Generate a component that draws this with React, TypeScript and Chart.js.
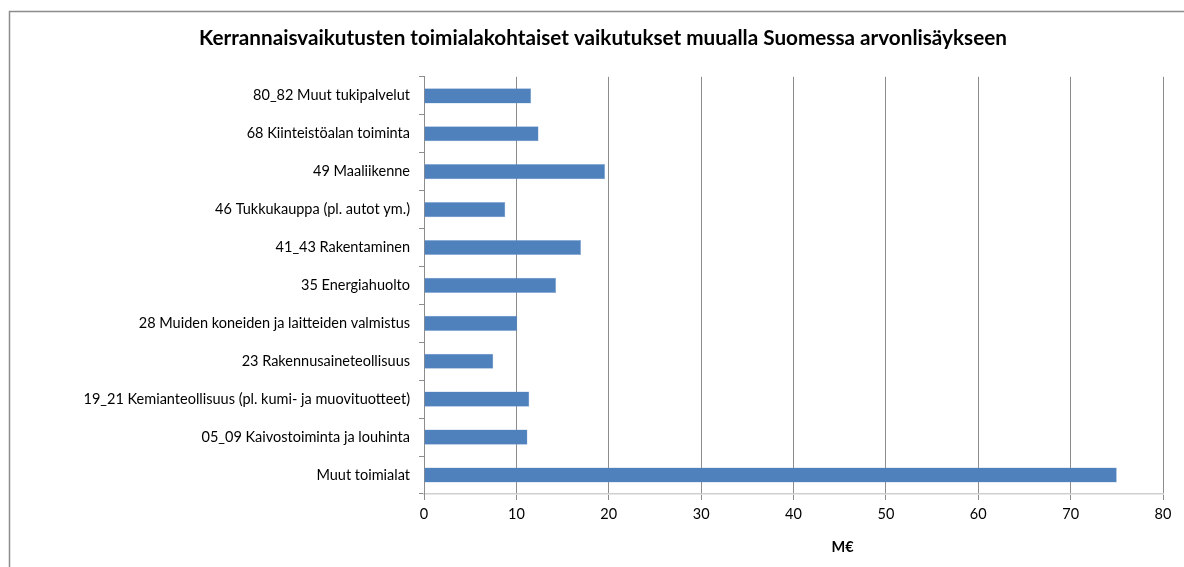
import React, { useEffect, useRef } from "react";
import { Chart, registerables } from "chart.js";

Chart.register(...registerables);

const chartTitle = "Kerrannaisvaikutusten toimialakohtaiset vaikutukset muualla Suomessa arvonlisäykseen";
const axisTitle = "M€";
const categories = [
  "80_82 Muut tukipalvelut",
  "68 Kiinteistöalan toiminta",
  "49 Maaliikenne",
  "46 Tukkukauppa (pl. autot ym.)",
  "41_43 Rakentaminen",
  "35 Energiahuolto",
  "28 Muiden koneiden ja laitteiden valmistus",
  "23 Rakennusaineteollisuus",
  "19_21 Kemianteollisuus (pl. kumi- ja muovituotteet)",
  "05_09 Kaivostoiminta ja louhinta",
  "Muut toimialat",
];
const values = [11.6, 12.4, 19.6, 8.8, 17.0, 14.3, 10.1, 7.5, 11.4, 11.2, 75.0];
const xMin = 0;
const xMax = 80;
const xStep = 10;

const FONT = "Lato, 'Open Sans', sans-serif";

const frame = {
  id: "frame",
  beforeDraw(chart: any) {
    const ctx = chart.ctx;
    ctx.save();
    ctx.fillStyle = "#ffffff";
    ctx.fillRect(0, 0, chart.width, chart.height);
    ctx.strokeStyle = "#8c8c8c";
    ctx.lineWidth = 1.5;
    ctx.strokeRect(9.5, 11.5, chart.width + 20, chart.height + 20);
    ctx.restore();
  },
};

const xAxisTitle = {
  id: "xAxisTitle",
  afterDraw(chart: any) {
    const ctx = chart.ctx;
    const area = chart.chartArea;
    ctx.save();
    ctx.fillStyle = "#000";
    ctx.font = `bold 14.5px ${FONT}`;
    ctx.textAlign = "center";
    ctx.textBaseline = "middle";
    ctx.fillText(axisTitle, (area.left + area.right) / 2 + 49, area.bottom + 53);
    ctx.restore();
  },
};

export default function App() {
  const ref = useRef<HTMLCanvasElement>(null);
  useEffect(() => {
    if (!ref.current) return;
    const chart = new Chart(ref.current, {
      type: "bar",
      data: {
        labels: categories,
        datasets: [
          {
            data: values,
            backgroundColor: "#4F81BD",
            borderColor: "rgba(120,160,210,0.8)",
            borderWidth: 0.5,
            barPercentage: 0.4,
            categoryPercentage: 1,
          },
        ],
      },
      options: {
        indexAxis: "y",
        animation: false,
        responsive: false,
        layout: { padding: { left: 43, right: 21, top: 26, bottom: 0 } },
        plugins: {
          legend: { display: false },
          tooltip: { enabled: false },
          title: {
            display: true,
            text: chartTitle,
            color: "#000",
            font: { family: FONT, size: 20.7, weight: "bold" },
            padding: { top: 0, bottom: 26 },
          },
        },
        scales: {
          x: {
            min: xMin,
            max: xMax,
            ticks: {
              stepSize: xStep,
              color: "#000",
              font: { family: FONT, size: 14.5 },
              padding: 6,
              maxRotation: 0,
            },
            grid: {
              color: "#8c8c8c",
              tickLength: 6,
              drawTicks: true,
              tickColor: "#8c8c8c",
            },
            border: { color: "#cfcfcf", width: 1.5 },
            afterFit(scale: any) {
              scale.height = 73;
            },
          },
          y: {
            ticks: {
              color: "#000",
              font: { family: FONT, size: 14.5 },
              padding: 9,
            },
            grid: {
              display: true,
              drawOnChartArea: false,
              drawTicks: true,
              tickLength: 5,
              color: "#8c8c8c",
              offset: true,
            },
            border: { color: "#8c8c8c", width: 1 },
            afterFit(scale: any) {
              scale.width = 381;
            },
          },
        },
      },
      plugins: [frame, xAxisTitle],
    });
    return () => chart.destroy();
  }, []);
  return (
    <div style={{ position: "fixed", left: 0, top: 0, width: 1184, height: 567 }}>
      <canvas ref={ref} width={1184} height={567} />
    </div>
  );
}
